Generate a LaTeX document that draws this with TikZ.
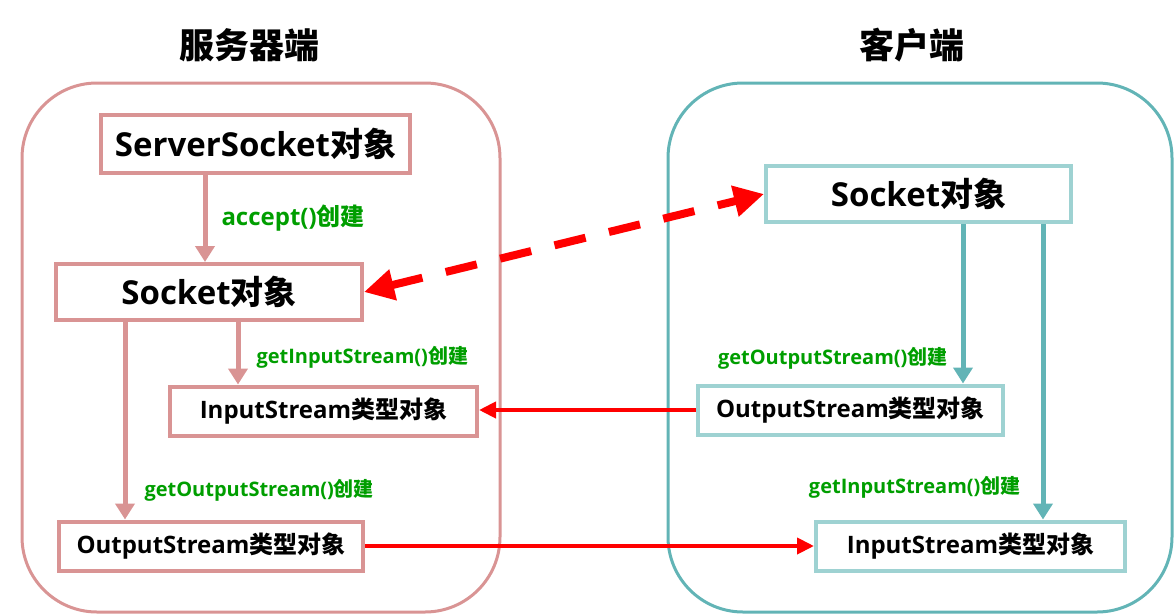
\documentclass[tikz,border=0pt]{standalone}
\usepackage{fontspec}
\setmainfont{Open Sans}
\newfontfamily\zhfont{Noto Sans CJK SC}
\usetikzlibrary{arrows.meta}
\newcommand\zh[1]{{\zhfont #1}}
\definecolor{srvpink}{RGB}{217,148,148}
\definecolor{clitealbox}{RGB}{98,180,182}
\definecolor{cliteal}{RGB}{158,210,210}
\definecolor{mkgreen}{RGB}{0,158,0}

\tikzset{
  side/.style={draw, line width=3pt, rounded corners=75pt, inner sep=0pt},
  srvbox/.style={draw=srvpink, line width=4pt, fill=white, inner sep=0pt},
  clibox/.style={draw=cliteal, line width=4pt, fill=white, inner sep=0pt},
  big/.style={font=\fontsize{33}{38}\selectfont\bfseries},
  small/.style={font=\fontsize{24}{29}\selectfont\bfseries},
  lbl/.style={text=mkgreen, font=\fontsize{20}{24}\selectfont\bfseries, inner sep=0pt},
  srvarr/.style={draw=srvpink, line width=5pt, -{Triangle[width=19pt,length=16pt]}},
  cliarr/.style={draw=clitealbox, line width=5pt, -{Triangle[width=19pt,length=16pt]}},
  datarr/.style={draw=red, line width=4pt, -{Triangle[width=16pt,length=17pt]}}
}

\begin{document}
\begin{tikzpicture}[x=1pt, y=-1pt]
\useasboundingbox (0,0) rectangle (1176,616);

%% the two sides
\node [side, draw=srvpink, minimum width=478pt, minimum height=529pt] at (261,347.5) (server) {};
\node [side, draw=clitealbox, minimum width=504pt, minimum height=529pt] at (920,347.5) (client) {};
\node [font=\fontsize{35}{40}\selectfont\bfseries] at (249,45) (servertitle) {\zh{服务器端}};
\node [font=\fontsize{35}{40}\selectfont\bfseries] at (912,45) (clienttitle) {\zh{客户端}};

%% server side
\node [srvbox, big, minimum width=309pt, minimum height=58pt] at (255.5,144) (ssock) {ServerSocket\zh{对象}};
\node [srvbox, big, minimum width=306pt, minimum height=56pt] at (209,292) (sock) {Socket\zh{对象}};
\node [srvbox, small, minimum width=307pt, minimum height=49pt] at (323.5,411) (sin) {InputStream\zh{类型对象}};
\node [srvbox, small, minimum width=304pt, minimum height=49pt] at (211,546) (sout) {OutputStream\zh{类型对象}};

%% client side
\node [clibox, big, minimum width=305pt, minimum height=56pt] at (918.5,194) (csock) {Socket\zh{对象}};
\node [clibox, small, minimum width=305pt, minimum height=49pt] at (850.5,410) (cout) {OutputStream\zh{类型对象}};
\node [clibox, small, minimum width=309pt, minimum height=49pt] at (970.5,546) (cin) {InputStream\zh{类型对象}};

%% creation
\draw[srvarr] (ssock.south -| 205,0) -- node [lbl, right=14pt, font=\fontsize{24}{28}\selectfont\bfseries] {accept()\zh{创建}} (sock.north -| 205,0);
\draw[srvarr] (sock.south -| 238,0) -- node [lbl, right=16pt, pos=0.57] {getInputStream()\zh{创建}} (sin.north -| 238,0);
\draw[srvarr] (sock.south -| 125,0) -- node [lbl, right=17pt, pos=0.85] {getOutputStream()\zh{创建}} (sout.north -| 125,0);
\draw[cliarr] (csock.south -| 963,0) -- node [lbl, left=13pt, pos=0.84] {getOutputStream()\zh{创建}} (cout.north -| 963,0);
\draw[cliarr] (csock.south -| 1043,0) -- node [lbl, left=20pt, pos=0.89] {getInputStream()\zh{创建}} (cin.north -| 1043,0);

%% connection and data
\draw[red, line width=8pt, dash pattern=on 32pt off 24pt, {Triangle[width=30pt,length=30pt]}-{Triangle[width=30pt,length=30pt]}] (sock.east) -- (csock.west);
\draw[datarr] (cout.west) -- (cout.west -| sin.east);
\draw[datarr] (sout.east) -- (cin.west);

\end{tikzpicture}
\end{document}
